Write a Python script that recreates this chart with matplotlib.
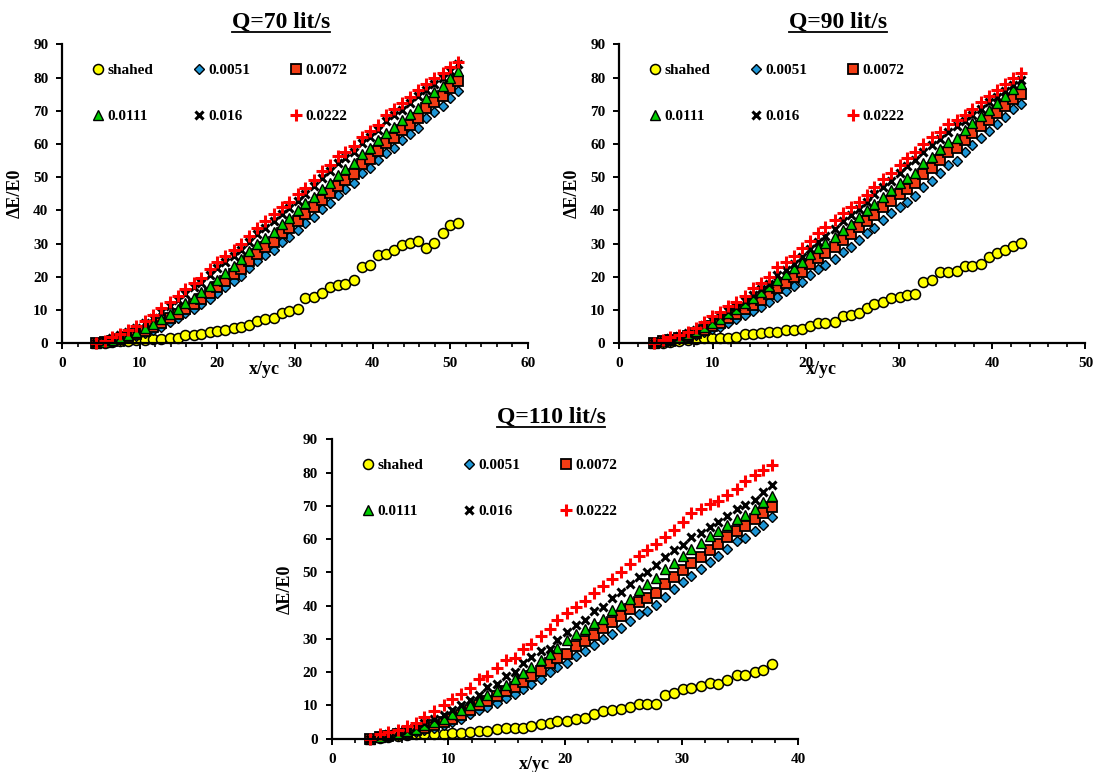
import matplotlib
matplotlib.use('Agg')
import matplotlib.pyplot as plt
from matplotlib.lines import Line2D
from matplotlib.ticker import MultipleLocator

plt.rcParams['font.family'] = ['Liberation Serif', 'DejaVu Serif']
plt.rcParams['font.weight'] = 'bold'

labels = ['shahed', '0.0051', '0.0072', '0.0111', '0.016', '0.0222']

# Q = 70 lit/s
x70 = [4.34, 5.54, 6.46, 7.48, 8.49, 9.55, 10.61, 11.72, 12.78, 13.84, 14.86, 15.87, 16.94, 17.86, 19.01,
       19.94, 20.95, 22.10, 23.03, 24.09, 25.10, 26.17, 27.23, 28.33, 29.26, 30.41, 31.29, 32.40, 33.50, 34.47,
       35.53, 36.46, 37.56, 38.67, 39.59, 40.70, 41.76, 42.78, 43.79, 44.76, 45.87, 46.93, 47.85, 49.01, 50.02, 50.95]
q70_shahed = [0, 0.2, 0.4, 0.6, 0.8, 0.9, 1.0, 1.3, 1.3, 1.5, 1.7, 2.6, 2.6, 2.8, 3.5, 3.8, 4.0, 4.6, 4.8, 5.4,
              6.8, 7.2, 7.6, 9.2, 9.8, 10.4, 13.6, 14.0, 15.0, 17.0, 17.5, 17.8, 19.2, 23.0, 23.6, 26.6, 27.0, 28.0,
              29.6, 30.2, 30.8, 28.8, 30.2, 33.2, 35.6, 36.2]
q70_0051 = [0, 0.3, 0.5, 1.0, 1.5, 2.2, 3.0, 4.0, 5.0, 6.5, 7.5, 9.0, 10.3, 11.8, 13.3, 15.0, 16.9, 18.8, 20.4,
            22.8, 24.8, 26.6, 28.1, 30.6, 32.1, 34.1, 36.1, 38.1, 40.4, 42.3, 44.6, 46.3, 48.2, 51.2, 52.7, 55.2,
            57.4, 58.9, 61.2, 62.9, 64.9, 67.9, 69.5, 71.4, 73.7, 76.0]
q70_0072 = [0, 0.4, 0.7, 1.3, 2.0, 2.8, 3.7, 4.8, 6.0, 7.6, 8.7, 10.4, 11.8, 13.4, 15.0, 16.8, 18.8, 20.8, 22.5,
            24.9, 27.0, 28.9, 30.5, 33.1, 34.8, 36.9, 38.9, 40.9, 43.2, 45.1, 47.4, 49.1, 51.0, 54.0, 55.6, 58.0,
            60.2, 61.8, 64.1, 65.8, 67.8, 70.8, 72.5, 74.4, 76.7, 79.0]
q70_0111 = [0, 0.5, 1.0, 1.7, 2.5, 3.4, 4.5, 5.8, 7.2, 8.9, 10.2, 12.0, 13.6, 15.3, 17.2, 19.2, 21.3, 23.3, 25.3,
            27.9, 29.9, 31.8, 33.6, 36.0, 37.8, 40.1, 42.1, 44.1, 46.3, 48.4, 50.6, 52.4, 54.2, 57.1, 58.8, 61.2,
            63.4, 65.0, 67.2, 69.0, 70.9, 73.8, 75.5, 77.5, 79.8, 82.0]
q70_016 = [0, 0.6, 1.5, 2.4, 3.4, 4.6, 6.0, 7.5, 9.4, 11.2, 12.9, 14.8, 16.8, 18.3, 20.6, 22.8, 24.5, 26.4, 28.2,
           30.5, 32.8, 34.7, 36.8, 38.9, 40.6, 42.8, 44.9, 47.4, 49.9, 51.8, 54.3, 55.9, 57.7, 60.4, 62.1, 64.2,
           66.8, 68.6, 70.3, 72.2, 74.3, 76.3, 78.2, 80.0, 82.0, 84.0]
q70_0222 = [0, 0.8, 1.8, 2.8, 3.9, 5.2, 6.8, 8.5, 10.5, 12.4, 14.2, 16.2, 18.3, 19.8, 22.3, 24.5, 26.3, 28.2, 30.0,
            32.4, 34.8, 36.7, 38.8, 40.9, 42.5, 44.8, 46.8, 49.3, 51.8, 53.7, 56.3, 57.6, 59.3, 62.2, 64.0, 65.8,
            68.8, 70.6, 72.2, 74.0, 76.2, 78.2, 80.0, 81.3, 83.1, 84.8]

# Q = 90 lit/s
x90 = [3.76, 4.68, 5.49, 6.41, 7.33, 8.18, 9.10, 9.95, 10.83, 11.68, 12.53, 13.45, 14.33, 15.18, 16.10, 16.95,
       17.83, 18.75, 19.60, 20.41, 21.33, 22.11, 23.10, 24.02, 24.87, 25.68, 26.53, 27.34, 28.26, 29.18, 30.10,
       30.84, 31.76, 32.61, 33.53, 34.45, 35.26, 36.18, 37.03, 37.84, 38.76, 39.68, 40.49, 41.41, 42.26, 43.11]
q90_shahed = [0, 0.2, 0.4, 0.6, 1.0, 1.2, 1.5, 1.5, 1.7, 1.5, 2.0, 2.7, 2.8, 3.2, 3.4, 3.4, 4.0, 4.0, 4.2, 5.2,
              6.2, 6.2, 6.5, 8.2, 8.4, 9.0, 10.5, 11.7, 12.3, 13.7, 14.0, 14.5, 14.8, 18.4, 19.1, 21.4, 21.4, 21.9,
              23.4, 23.4, 23.8, 26.1, 27.1, 28.1, 29.4, 30.3]
q90_0051 = [0, 0.5, 0.8, 1.3, 1.8, 2.5, 3.3, 4.2, 5.0, 6.2, 7.2, 8.5, 9.7, 11.0, 12.5, 14.0, 15.6, 17.1, 18.6,
            20.6, 22.3, 23.6, 25.3, 27.4, 29.1, 31.1, 33.1, 34.8, 37.1, 39.1, 41.1, 42.6, 44.3, 47.2, 49.0, 51.4,
            53.7, 55.0, 57.5, 59.7, 61.9, 63.9, 66.0, 68.2, 70.4, 72.0]
q90_0072 = [0, 0.6, 1.0, 1.6, 2.2, 3.0, 4.0, 5.1, 6.1, 7.5, 8.7, 10.2, 11.6, 13.1, 14.8, 16.5, 18.3, 19.9, 21.6,
            23.8, 25.7, 27.1, 28.9, 31.1, 32.8, 34.9, 36.9, 38.6, 40.9, 42.9, 45.0, 46.5, 48.2, 51.1, 52.9, 55.3,
            57.5, 58.8, 61.2, 63.3, 65.3, 67.3, 69.3, 71.4, 73.4, 75.0]
q90_0111 = [0, 0.7, 1.2, 1.9, 2.7, 3.7, 4.9, 6.2, 7.4, 9.0, 10.4, 12.1, 13.7, 15.4, 17.3, 19.1, 21.0, 22.8, 24.6,
            26.8, 28.8, 30.2, 32.0, 34.2, 36.0, 38.0, 40.1, 41.8, 44.1, 46.2, 48.2, 49.7, 51.4, 54.3, 56.1, 58.5,
            60.6, 61.9, 64.2, 66.3, 68.4, 70.3, 72.3, 74.4, 76.5, 78.0]
q90_016 = [0, 0.8, 1.5, 2.1, 3.0, 3.9, 5.5, 7.0, 8.3, 9.8, 11.0, 12.6, 14.6, 16.3, 18.0, 20.5, 22.2, 23.8, 26.0,
           28.3, 30.4, 32.4, 34.5, 36.8, 38.7, 40.4, 42.4, 44.9, 47.1, 49.0, 51.3, 53.3, 55.2, 57.6, 59.6, 61.5,
           63.7, 65.3, 66.9, 68.6, 70.5, 72.5, 74.2, 76.0, 77.7, 79.2]
q90_0222 = [0, 1.0, 1.8, 2.5, 3.5, 4.5, 6.5, 8.2, 9.5, 11.2, 12.5, 14.2, 16.6, 18.3, 20.1, 23.1, 24.6, 26.3, 28.6,
            30.9, 33.1, 34.9, 37.1, 39.3, 41.1, 42.6, 44.6, 47.2, 49.4, 51.2, 53.7, 55.9, 57.7, 60.0, 62.0, 63.7,
            65.9, 67.2, 68.7, 70.5, 72.5, 74.5, 76.1, 78.1, 79.8, 81.3]

# Q = 110 lit/s
x110 = [3.30, 4.16, 4.82, 5.65, 6.45, 7.26, 7.94, 8.80, 9.61, 10.32, 11.04, 11.84, 12.62, 13.33, 14.14, 14.91,
        15.68, 16.43, 17.12, 17.92, 18.72, 19.35, 20.16, 20.93, 21.71, 22.51, 23.23, 24.00, 24.80, 25.61, 26.38,
        27.04, 27.81, 28.59, 29.33, 30.11, 30.82, 31.63, 32.40, 33.12, 33.92, 34.70, 35.41, 36.27, 36.99, 37.71]
q110_shahed = [0, 0.3, 0.5, 0.7, 1.1, 1.3, 1.3, 1.3, 1.5, 1.7, 1.8, 2.0, 2.3, 2.3, 3.0, 3.2, 3.2, 3.3, 3.8, 4.3,
               4.8, 5.2, 5.2, 6.0, 6.3, 7.3, 8.3, 8.5, 9.0, 9.5, 10.3, 10.5, 10.5, 13.0, 13.8, 14.8, 15.2, 15.8,
               16.8, 16.4, 17.6, 19.3, 19.3, 20.1, 20.8, 22.4]
q110_0051 = [0, 0.5, 0.7, 1.0, 1.5, 2.0, 2.5, 3.3, 4.0, 5.0, 6.0, 7.3, 8.5, 9.5, 10.8, 12.3, 13.5, 15.0, 16.6,
             18.1, 20.1, 21.6, 22.8, 24.9, 26.4, 28.1, 30.1, 31.6, 33.4, 35.4, 37.4, 38.4, 40.1, 42.6, 44.9, 47.2,
             49.0, 50.9, 53.2, 55.0, 56.9, 59.4, 60.4, 62.4, 64.2, 66.8]
q110_0072 = [0, 0.6, 0.9, 1.3, 1.9, 2.5, 3.1, 4.0, 4.9, 6.0, 7.2, 8.7, 10.0, 11.2, 12.7, 14.3, 15.7, 17.2, 18.9,
             20.5, 22.7, 24.3, 25.6, 27.8, 29.4, 31.3, 33.4, 35.0, 37.0, 39.1, 41.2, 42.3, 43.9, 46.5, 48.5, 50.7,
             52.8, 54.5, 56.6, 58.4, 60.5, 62.4, 64.0, 66.0, 67.8, 69.8]
q110_0111 = [0, 0.5, 1.0, 1.5, 2.3, 3.0, 4.0, 5.0, 6.0, 7.3, 8.5, 10.0, 11.2, 13.0, 14.2, 16.1, 18.1, 19.8, 21.6,
             23.6, 25.4, 27.4, 29.6, 31.4, 32.9, 34.8, 36.1, 38.6, 40.1, 41.9, 44.6, 46.5, 48.2, 51.0, 52.7, 54.9,
             56.9, 58.7, 61.0, 62.5, 64.4, 66.2, 67.4, 69.2, 71.2, 73.0]
q110_016 = [0, 0.7, 1.3, 2.0, 2.7, 3.5, 4.7, 6.0, 7.0, 8.7, 10.0, 11.5, 13.0, 15.6, 16.6, 18.8, 20.1, 22.8, 24.6,
            26.4, 27.1, 29.8, 32.1, 34.1, 35.6, 38.3, 39.6, 42.4, 44.1, 46.4, 48.7, 50.2, 52.2, 54.7, 56.7, 58.2,
            60.5, 61.9, 63.7, 65.2, 66.9, 69.2, 70.2, 71.7, 74.2, 76.3]
q110_0222 = [0, 1.3, 2.0, 2.7, 3.7, 4.7, 6.5, 8.3, 10.0, 12.0, 13.3, 15.3, 17.9, 18.8, 21.4, 23.6, 24.3, 27.1,
             28.6, 30.8, 32.9, 35.6, 37.8, 39.6, 41.3, 43.9, 46.0, 47.9, 50.2, 52.5, 55.0, 56.7, 58.4, 60.7, 62.7,
             65.2, 68.0, 69.0, 70.7, 71.5, 73.4, 75.2, 77.6, 79.3, 80.8, 82.3]

styles = [
    dict(marker='o', mfc='#FFFF00', mec='black', ms=7.2, mew=1.1, color='none'),
    dict(marker='D', mfc='#1E96D6', mec='black', ms=5.2, mew=1.0, color='none'),
    dict(marker='s', mfc='#F23C14', mec='black', ms=6.8, mew=1.3, color='none'),
    dict(marker='^', mfc='#00CC00', mec='black', ms=7.4, mew=1.0, color='none'),
    dict(marker='x', mfc='black', mec='black', ms=6.0, mew=2.2, color='none'),
    dict(marker='+', mfc='red', mec='red', ms=8.5, mew=2.2, color='none'),
]

fig = plt.figure(figsize=(10.98, 7.72), dpi=100)

panels = [
    ([0.0567, 0.5553, 0.4241, 0.3873], 'Q=70 lit/s', 60, x70,
     [q70_shahed, q70_0051, q70_0072, q70_0111, q70_016, q70_0222]),
    ([0.5640, 0.5553, 0.4246, 0.3873], 'Q=90 lit/s', 50, x90,
     [q90_shahed, q90_0051, q90_0072, q90_0111, q90_016, q90_0222]),
    ([0.3021, 0.0431, 0.4250, 0.3878], 'Q=110 lit/s', 40, x110,
     [q110_shahed, q110_0051, q110_0072, q110_0111, q110_016, q110_0222]),
]

titles = []
for rect, title, xmax, xs, series in panels:
    ax = fig.add_axes(rect)
    handles = []
    for ys, lab, st in zip(series, labels, styles):
        h, = ax.plot(xs, ys, linestyle='none', label=lab, clip_on=False, **st)
        handles.append(h)
    ax.set_xlim(0, xmax)
    ax.set_ylim(0, 90)
    ax.xaxis.set_major_locator(MultipleLocator(10))
    ax.xaxis.set_minor_locator(MultipleLocator(2))
    ax.yaxis.set_major_locator(MultipleLocator(10))
    for s in ['top', 'right']:
        ax.spines[s].set_visible(False)
    for s in ['left', 'bottom']:
        ax.spines[s].set_linewidth(1.6)
    ax.tick_params(which='major', direction='out', length=4, width=1.4, labelsize=11, pad=6)
    ax.tick_params(which='minor', direction='out', length=3, width=1.2)
    for lb in ax.get_xticklabels() + ax.get_yticklabels():
        lb.set_fontweight('bold')
    ax.set_ylabel('ΔE/E0', fontsize=13, fontweight='bold')
    ax.yaxis.set_label_coords(-0.082, 0.5)
    ax.set_xlabel('x/yc', fontsize=13, fontweight='bold')
    ax.xaxis.set_label_coords(0.434, -0.058)
    # legend filled row by row: shahed, 0.0051, 0.0072 / 0.0111, 0.016, 0.0222
    order = [0, 3, 1, 4, 2, 5]
    ax.legend([handles[i] for i in order], [labels[i] for i in order],
              loc='upper left', bbox_to_anchor=(0.066, 0.935), ncol=3, frameon=False,
              prop={'size': 11, 'weight': 'bold'}, handlelength=0.7, handletextpad=0.25,
              columnspacing=2.65, labelspacing=2.1, borderpad=0, borderaxespad=0)
    t = ax.text(0.47, 1.0726, title, transform=ax.transAxes, ha='center', va='center',
                fontsize=17, fontweight='bold')
    titles.append(t)

# underline the titles
fig.canvas.draw()
W, H = fig.bbox.width, fig.bbox.height
for t in titles:
    bb = t.get_window_extent()
    y = (bb.y0 + 1.5) / H
    fig.add_artist(Line2D([bb.x0 / W, bb.x1 / W], [y, y], color='black', linewidth=1.3,
                          transform=fig.transFigure))

fig.savefig('out.png', dpi=100)
